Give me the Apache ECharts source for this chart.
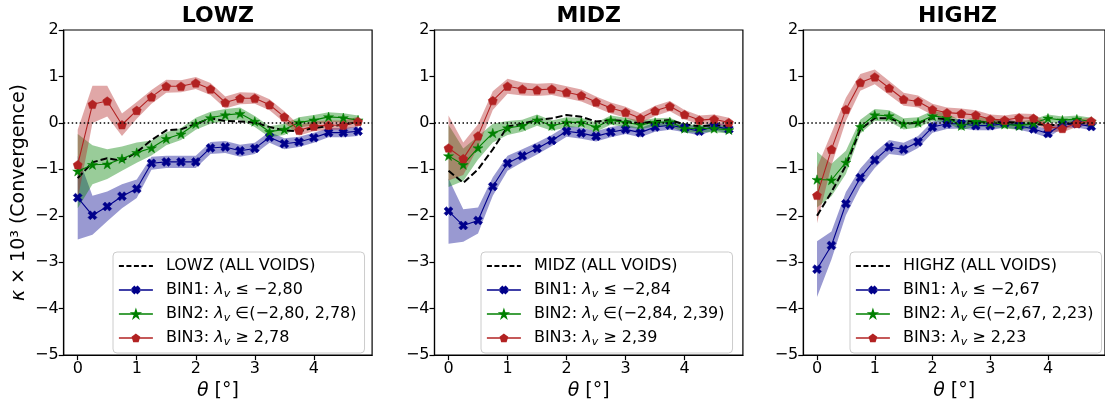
<!DOCTYPE html>
<html>
<head>
<meta charset="utf-8">
<script src="https://cdn.jsdelivr.net/npm/echarts@6.0.0/dist/echarts.min.js"></script>
<style>
html,body{margin:0;padding:0;background:#fff;}
#chart{width:1105px;height:406px;}
</style>
</head>
<body>
<div id="chart"></div>
<script>
// ---------------- data ----------------
const theta = [0,0.25,0.5,0.75,1,1.25,1.5,1.75,2,2.25,2.5,2.75,3,3.25,3.5,3.75,4,4.25,4.5,4.75];
const xTicks = [0,1,2,3,4];
const panelTitles = ['LOWZ','MIDZ','HIGHZ'];

// LOWZ
const lowzAll  = [-1.19,-0.85,-0.76,-0.82,-0.63,-0.37,-0.16,-0.14,-0.02,0.10,0.04,0.03,0.01,-0.09,-0.16,-0.18,-0.11,-0.07,-0.04,0.02];
const lowzBin1 = [-1.61,-1.99,-1.80,-1.58,-1.42,-0.87,-0.84,-0.84,-0.84,-0.54,-0.52,-0.60,-0.55,-0.31,-0.45,-0.41,-0.32,-0.21,-0.21,-0.18];
const lowzBin1Err = [0.9,0.42,0.32,0.26,0.2,0.14,0.13,0.13,0.13,0.13,0.13,0.13,0.12,0.12,0.12,0.11,0.11,0.1,0.1,0.1];
const lowzBin2 = [-1.04,-0.90,-0.89,-0.77,-0.64,-0.54,-0.34,-0.24,-0.02,0.11,0.17,0.20,0.03,-0.19,-0.14,0.01,0.06,0.13,0.11,0.06];
const lowzBin2Err = [0.8,0.42,0.32,0.26,0.22,0.16,0.14,0.13,0.13,0.13,0.13,0.13,0.12,0.12,0.12,0.11,0.11,0.1,0.1,0.1];
const lowzBin3 = [-0.90,0.40,0.47,-0.04,0.27,0.56,0.79,0.79,0.86,0.73,0.44,0.53,0.53,0.39,0.13,-0.16,-0.07,-0.05,-0.05,0.03];
const lowzBin3Err = [0.75,0.4,0.33,0.24,0.18,0.15,0.14,0.13,0.13,0.13,0.13,0.13,0.12,0.12,0.12,0.11,0.11,0.1,0.1,0.1];

// MIDZ
const midzAll  = [-1.03,-1.29,-1.00,-0.57,-0.08,-0.02,0.06,0.10,0.17,0.13,0.03,0.06,0.04,-0.01,0.04,0.06,-0.03,-0.07,-0.05,-0.07];
const midzBin1 = [-1.90,-2.21,-2.10,-1.37,-0.87,-0.71,-0.55,-0.38,-0.18,-0.22,-0.29,-0.20,-0.14,-0.21,-0.09,-0.05,-0.11,-0.18,-0.07,-0.14];
const midzBin1Err = [0.7,0.35,0.28,0.2,0.16,0.14,0.13,0.12,0.12,0.12,0.11,0.11,0.1,0.1,0.1,0.1,0.09,0.09,0.09,0.09];
const midzBin2 = [-0.71,-0.90,-0.54,-0.22,-0.11,-0.06,0.06,-0.06,0.01,0.01,-0.09,0.06,0.01,-0.04,0.01,0.02,-0.12,-0.12,-0.12,-0.15];
const midzBin2Err = [0.67,0.35,0.25,0.2,0.15,0.13,0.12,0.11,0.11,0.1,0.1,0.1,0.1,0.09,0.09,0.09,0.09,0.08,0.08,0.08];
const midzBin3 = [-0.54,-0.77,-0.28,0.48,0.79,0.73,0.71,0.73,0.66,0.59,0.45,0.32,0.23,0.10,0.26,0.36,0.18,0.06,0.08,0.01];
const midzBin3Err = [0.7,0.35,0.25,0.2,0.16,0.14,0.13,0.13,0.13,0.13,0.12,0.12,0.12,0.11,0.11,0.11,0.1,0.1,0.1,0.1];

// HIGHZ
const highzAll  = [-2.00,-1.49,-0.92,-0.14,0.10,0.10,-0.02,0.00,0.10,0.08,0.04,0.03,0.01,0.02,0.00,-0.02,-0.05,-0.04,0.00,0.01];
const highzBin1 = [-3.15,-2.64,-1.74,-1.18,-0.80,-0.52,-0.57,-0.41,-0.09,-0.02,-0.02,-0.06,-0.06,-0.01,-0.06,-0.13,-0.23,-0.03,-0.02,-0.08];
const highzBin1Err = [0.6,0.3,0.25,0.2,0.17,0.15,0.14,0.13,0.12,0.11,0.1,0.1,0.1,0.09,0.09,0.09,0.09,0.08,0.08,0.08];
const highzBin2 = [-1.22,-1.23,-0.85,-0.08,0.17,0.15,-0.02,0.01,0.15,0.11,-0.06,0.03,0.01,-0.03,-0.06,-0.01,0.10,0.06,0.08,0.03];
const highzBin2Err = [0.6,0.35,0.25,0.15,0.13,0.12,0.12,0.11,0.11,0.1,0.1,0.1,0.09,0.09,0.09,0.09,0.08,0.08,0.08,0.08];
const highzBin3 = [-1.56,-0.57,0.29,0.87,0.99,0.75,0.51,0.46,0.29,0.22,0.20,0.17,0.08,0.06,0.11,0.10,-0.09,-0.12,-0.01,0.04];
const highzBin3Err = [0.6,0.35,0.25,0.18,0.16,0.15,0.14,0.13,0.12,0.11,0.11,0.1,0.1,0.1,0.09,0.09,0.09,0.08,0.08,0.08];

// legend labels
const allLabels = ['LOWZ (ALL VOIDS)','MIDZ (ALL VOIDS)','HIGHZ (ALL VOIDS)'];
const bin1Labels = ['BIN1: {i|λ}{s|v} ≤ −2,80','BIN1: {i|λ}{s|v} ≤ −2,84','BIN1: {i|λ}{s|v} ≤ −2,67'];
const bin2Labels = ['BIN2: {i|λ}{s|v} ∈(−2,80, 2,78)','BIN2: {i|λ}{s|v} ∈(−2,84, 2,39)','BIN2: {i|λ}{s|v} ∈(−2,67, 2,23)'];
const bin3Labels = ['BIN3: {i|λ}{s|v} ≥ 2,78','BIN3: {i|λ}{s|v} ≥ 2,39','BIN3: {i|λ}{s|v} ≥ 2,23'];

// ---------------- build ----------------
const panels = [
  {all: lowzAll, b1: lowzBin1, e1: lowzBin1Err, b2: lowzBin2, e2: lowzBin2Err, b3: lowzBin3, e3: lowzBin3Err},
  {all: midzAll, b1: midzBin1, e1: midzBin1Err, b2: midzBin2, e2: midzBin2Err, b3: midzBin3, e3: midzBin3Err},
  {all: highzAll, b1: highzBin1, e1: highzBin1Err, b2: highzBin2, e2: highzBin2Err, b3: highzBin3, e3: highzBin3Err}
];
const gridLeft = [63.7, 434.5, 803.3];
const gridWidth = 308.4;
const gridTop = 30, gridHeight = 331;
const legendLeft = [113, 481, 850];

const FONT = 'DejaVu Sans';
const C_BLUE = '#00008b', C_GREEN = '#008000', C_RED = '#b22222';
const F_BLUE = 'rgba(0,0,139,0.4)', F_GREEN = 'rgba(0,128,0,0.4)', F_RED = 'rgba(178,34,34,0.4)';

const SYM_X = 'path://M146 4.5L195.5 54L149.5 100L195.5 146L146 195.5L100 149.5L54 195.5L4.5 146L50.5 100L4.5 54L54 4.5L100 50.5Z';
const SYM_STAR = 'path://M100 0L122.45 69.1L195.1 69.1L136.3 111.8L158.8 180.9L100 138.2L41.2 180.9L63.7 111.8L4.9 69.1L77.55 69.1Z';
const SYM_PENT = 'path://M100 0L195.1 69.1L158.8 180.9L41.2 180.9L4.9 69.1Z';

const labelMap = {};
const grids = [], xAxes = [], yAxes = [], titles = [], legends = [], series = [];

function pairs(vals){ return theta.map((t,i)=>[t, vals[i]]); }

function band(g, vals, err, color){
  return {
    type:'custom', xAxisIndex:g, yAxisIndex:g, silent:true, z:1, clip:false,
    data: theta.map((t,i)=>[t, vals[i]-err[i], vals[i]+err[i]]),
    encode:{x:0, y:[1,2]},
    renderItem: function(params, api){
      if (params.dataIndex !== 0) return null;
      const pts = [];
      for (let i=0;i<theta.length;i++) pts.push(api.coord([theta[i], vals[i]+err[i]]));
      for (let i=theta.length-1;i>=0;i--) pts.push(api.coord([theta[i], vals[i]-err[i]]));
      return {type:'polygon', shape:{points:pts}, style:{fill:color, stroke:null}};
    }
  };
}

function line(g, name, vals, color, sym, size){
  return {
    type:'line', name:name, xAxisIndex:g, yAxisIndex:g, z:4,
    data: pairs(vals), symbol: sym, symbolSize: size, symbolKeepAspect:true, showSymbol:true,
    lineStyle:{color:color, width:1.1}, itemStyle:{color:color, borderColor:color, borderWidth:0.5},
    emphasis:{disabled:true}, silent:true
  };
}

panels.forEach((p, g) => {
  grids.push({left:gridLeft[g], top:gridTop, width:gridWidth, height:gridHeight, show:true,
    borderColor:'#000', borderWidth:1.2, backgroundColor:'transparent', containLabel:false});
  xAxes.push({
    type:'value', gridIndex:g, min:-0.2375, max:4.9875,
    name:'{i|θ} [°]', nameLocation:'middle', nameGap:24,
    nameTextStyle:{fontFamily:FONT, fontSize:19, color:'#000', rich:{i:{fontFamily:FONT, fontStyle:'italic', fontSize:19}}},
    axisLine:{show:true, onZero:false, lineStyle:{color:'#000', width:1.2}},
    axisTick:{show:true, length:5, lineStyle:{color:'#000', width:1.2}, customValues:xTicks},
    axisLabel:{fontFamily:FONT, fontSize:16, color:'#000', margin:6, customValues:xTicks},
    splitLine:{show:false}
  });
  yAxes.push({
    type:'value', gridIndex:g, min:-5, max:2, interval:1,
    name: g===0 ? '{i|κ} × 10³ (Convergence)' : '', nameLocation:'middle', nameGap:35,
    nameTextStyle:{fontFamily:FONT, fontSize:19, color:'#000', rich:{i:{fontFamily:FONT, fontStyle:'italic', fontSize:19}}},
    axisLine:{show:true, onZero:false, lineStyle:{color:'#000', width:1.2}},
    axisTick:{show:true, length:5, lineStyle:{color:'#000', width:1.2}},
    axisLabel:{fontFamily:FONT, fontSize:16, color:'#000', margin:5,
      formatter: v => v < 0 ? '−' + Math.abs(v) : String(v)},
    splitLine:{show:false}
  });
  titles.push({text:panelTitles[g], left:gridLeft[g] + gridWidth/2, top:5, textAlign:'center', padding:0,
    textStyle:{fontFamily:FONT, fontSize:22, fontWeight:'bold', color:'#000'}});

  const nAll = panelTitles[g] + ' (ALL VOIDS)';
  const n1 = panelTitles[g] + ' BIN1', n2 = panelTitles[g] + ' BIN2', n3 = panelTitles[g] + ' BIN3';
  labelMap[nAll] = allLabels[g]; labelMap[n1] = bin1Labels[g]; labelMap[n2] = bin2Labels[g]; labelMap[n3] = bin3Labels[g];

  series.push(band(g, p.b1, p.e1, F_BLUE));
  series.push(band(g, p.b2, p.e2, F_GREEN));
  series.push(band(g, p.b3, p.e3, F_RED));
  series.push({
    type:'line', name:nAll, xAxisIndex:g, yAxisIndex:g, z:3, data:pairs(p.all), symbol:'none', showSymbol:false,
    lineStyle:{color:'#000', width:2, type:[7,3]}, itemStyle:{color:'#000'}, emphasis:{disabled:true}, silent:true,
    markLine:{silent:true, symbol:'none', z:6, label:{show:false}, data:[{yAxis:0}],
      lineStyle:{color:'#000', width:1.5, type:[1.5,2.5]}, emphasis:{disabled:true}}
  });
  series.push(line(g, n1, p.b1, C_BLUE, SYM_X, 9));
  series.push(line(g, n2, p.b2, C_GREEN, SYM_STAR, 10));
  series.push(line(g, n3, p.b3, C_RED, SYM_PENT, 9));

  legends.push({
    orient:'vertical', left:legendLeft[g], top:252,
    data:[{name:nAll, itemStyle:{opacity:0}, lineStyle:{width:1.8, type:[5,2.5], color:'#000', opacity:1}},
          {name:n1, lineStyle:{width:1.6, color:C_BLUE, opacity:1}},
          {name:n2, lineStyle:{width:1.6, color:C_GREEN, opacity:1}},
          {name:n3, lineStyle:{width:1.6, color:C_RED, opacity:1}}],
    selectedMode:false,
    itemWidth:34, itemHeight:8, itemGap:4, padding:[4,8,5,5],
    backgroundColor:'rgba(255,255,255,0.8)', borderColor:'#cccccc', borderWidth:1, borderRadius:4,
    formatter: n => '{g|}' + labelMap[n],
    textStyle:{fontFamily:FONT, fontSize:16, color:'#000', lineHeight:20,
      rich:{g:{width:8}, i:{fontFamily:FONT, fontStyle:'italic', fontSize:16, lineHeight:20},
            s:{fontFamily:FONT, fontStyle:'italic', fontSize:11, lineHeight:11, verticalAlign:'bottom'}}}
  });
});

const chart = echarts.init(document.getElementById('chart'), null, {renderer:'canvas'});
chart.setOption({
  animation:false, backgroundColor:'#fff',
  title:titles, grid:grids, xAxis:xAxes, yAxis:yAxes, legend:legends, series:series
});
</script>
</body>
</html>
